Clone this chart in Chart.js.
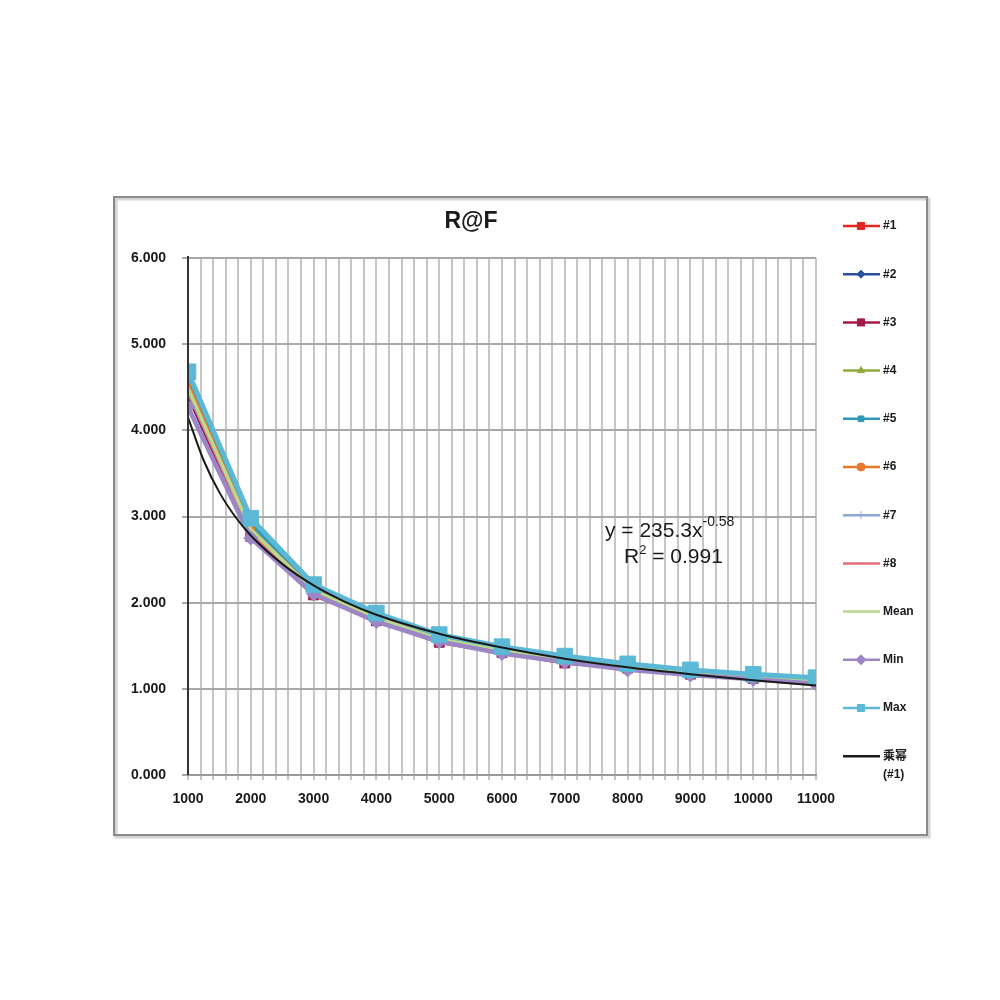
<!DOCTYPE html>
<html>
<head>
<meta charset="utf-8">
<script src="https://cdn.jsdelivr.net/npm/chart.js@4/dist/chart.umd.min.js"></script>
<style>
  html, body { margin: 0; padding: 0; background: #fff; }
  #wrap { width: 1000px; height: 1000px; }
</style>
</head>
<body>
<div id="wrap"><canvas id="c" width="1000" height="1000"></canvas></div>
<script>
// values
const xValues = [1000, 2000, 3000, 4000, 5000, 6000, 7000, 8000, 9000, 10000, 11000];
const s1   = [4.43, 2.78, 2.10, 1.80, 1.56, 1.43, 1.32, 1.24, 1.18, 1.13, 1.08];
const s2   = [4.40, 2.80, 2.13, 1.82, 1.58, 1.44, 1.33, 1.25, 1.18, 1.13, 1.09];
const s3   = [4.42, 2.77, 2.09, 1.79, 1.54, 1.42, 1.30, 1.24, 1.17, 1.12, 1.08];
const s4   = [4.50, 2.88, 2.16, 1.84, 1.60, 1.46, 1.35, 1.26, 1.20, 1.15, 1.10];
const s5   = [4.60, 2.92, 2.18, 1.86, 1.61, 1.47, 1.36, 1.27, 1.21, 1.16, 1.11];
const s6   = [4.54, 2.85, 2.15, 1.83, 1.59, 1.45, 1.34, 1.26, 1.19, 1.14, 1.10];
const s7   = [4.45, 2.83, 2.14, 1.82, 1.58, 1.45, 1.34, 1.25, 1.19, 1.14, 1.09];
const s8   = [4.47, 2.82, 2.13, 1.81, 1.58, 1.44, 1.33, 1.25, 1.18, 1.13, 1.09];
const mean = [4.49, 2.85, 2.14, 1.82, 1.58, 1.45, 1.34, 1.25, 1.19, 1.14, 1.09];
const minV = [4.27, 2.75, 2.10, 1.78, 1.55, 1.41, 1.31, 1.22, 1.16, 1.11, 1.06];
const maxV = [4.68, 2.98, 2.21, 1.88, 1.63, 1.49, 1.38, 1.29, 1.22, 1.17, 1.13];

// power trend line (#1)
const fitX = [1000, 1250, 1500, 1750, 2000, 2500, 3000, 3500, 4000, 5000, 6000, 7000, 8000, 9000, 10000, 11000];
const fitY = [4.15, 3.65, 3.28, 3.00, 2.78, 2.45, 2.20, 2.01, 1.86, 1.64, 1.48, 1.35, 1.25, 1.17, 1.10, 1.04];

const yTicks = [0, 1, 2, 3, 4, 5, 6];
const titleText = 'R@F';
const fitText = ['y = 235.3x', '-0.58', 'R', '2', ' = 0.991'];

const FONT = '"Liberation Sans", Arial, "Noto Sans CJK SC", sans-serif';

const pts = (xs, ys) => xs.map((x, i) => ({ x: x, y: ys[i] }));

const series = (label, data, color, style, radius, order, width) => ({
  label: label,
  data: pts(xValues, data),
  borderColor: color,
  backgroundColor: color,
  borderWidth: width || 3.5,
  pointStyle: style,
  pointRadius: radius,
  pointBorderWidth: 1,
  pointBorderColor: color,
  pointBackgroundColor: color,
  tension: 0,
  order: order,
});

const datasets = [
  series('#1', s1, '#e3261f', 'rect', 5, 11),
  series('#2', s2, '#2a4f9c', 'rectRot', 4, 10),
  series('#3', s3, '#a31a4a', 'rect', 7, 9),
  series('#4', s4, '#8cab3c', 'triangle', 4, 8),
  series('#5', s5, '#2f97b8', 'rect', 4, 7),
  series('#6', s6, '#e8782a', 'circle', 4, 6),
  series('#7', s7, '#8ea6d6', 'cross', 4, 5),
  series('#8', s8, '#e06f7a', 'line', 4, 4),
  series('Mean', mean, '#b9d98c', 'circle', 0, 3),
  series('Min', minV, '#9c86c6', 'rectRot', 7, 2, 4.5),
  series('Max', maxV, '#5bb9d6', 'rect', 11, 1, 5),
  {
    label: '乘幂\n(#1)',
    data: pts(fitX, fitY),
    borderColor: '#1a1a1a',
    backgroundColor: '#1a1a1a',
    borderWidth: 2,
    pointRadius: 0,
    cubicInterpolationMode: 'monotone',
    order: 0,
  },
];

const framePlugin = {
  id: 'frame',
  beforeDraw(chart) {
    const ctx = chart.ctx;
    ctx.save();
    ctx.fillStyle = '#fff';
    ctx.fillRect(0, 0, chart.width, chart.height);
    ctx.strokeStyle = '#d4d4d4';
    ctx.lineWidth = 3;
    ctx.strokeRect(116, 199, 813, 638);
    ctx.strokeStyle = '#8a8a8a';
    ctx.lineWidth = 2;
    ctx.strokeRect(114, 197, 813, 638);
    ctx.restore();
  },
  afterDraw(chart) {
    const ctx = chart.ctx;
    const xs = chart.scales.x, ys = chart.scales.y;
    ctx.save();
    // left axis line
    ctx.strokeStyle = '#333';
    ctx.lineWidth = 2;
    ctx.beginPath();
    ctx.moveTo(xs.left, ys.top - 2);
    ctx.lineTo(xs.left, ys.bottom);
    ctx.stroke();

    // title
    ctx.fillStyle = '#1a1a1a';
    ctx.font = 'bold 23px ' + FONT;
    ctx.textAlign = 'center';
    ctx.textBaseline = 'middle';
    ctx.fillText(titleText, 471, 222);
    ctx.textAlign = 'left';

    // fit equation
    ctx.textBaseline = 'alphabetic';
    ctx.font = '21px ' + FONT;
    let x = 605, y = 537;
    ctx.fillText(fitText[0], x, y);
    x += ctx.measureText(fitText[0]).width;
    ctx.font = '14px ' + FONT;
    ctx.fillText(fitText[1], x, y - 11);
    ctx.font = '21px ' + FONT;
    x = 624; y = 563;
    ctx.fillText(fitText[2], x, y);
    x += ctx.measureText(fitText[2]).width;
    ctx.font = '13px ' + FONT;
    ctx.fillText(fitText[3], x, y - 9);
    x += ctx.measureText(fitText[3]).width;
    ctx.font = '21px ' + FONT;
    ctx.fillText(fitText[4], x, y);

    // legend
    chart.data.datasets.forEach((ds, i) => {
      const ly = 226 + i * 48.2;
      ctx.strokeStyle = ds.borderColor;
      ctx.lineWidth = 2.5;
      ctx.beginPath();
      ctx.moveTo(843, ly);
      ctx.lineTo(880, ly);
      ctx.stroke();
      if (ds.pointRadius > 0) {
        ctx.fillStyle = ds.borderColor;
        ctx.strokeStyle = ds.borderColor;
        ctx.lineWidth = 1;
        Chart.helpers.drawPoint(ctx, {
          pointStyle: ds.pointStyle,
          radius: Math.min(ds.pointRadius, 5),
          rotation: 0,
          borderWidth: 1,
        }, 861, ly);
      }
      ctx.fillStyle = '#1a1a1a';
      ctx.font = 'bold 12px ' + FONT;
      ctx.textBaseline = 'middle';
      ds.label.split('\n').forEach((t, k) => ctx.fillText(t, 883, ly + k * 18));
    });
    ctx.restore();
  },
};

new Chart(document.getElementById('c'), {
  type: 'line',
  data: { datasets: datasets },
  options: {
    responsive: false,
    animation: false,
    layout: { padding: { left: 0, right: 184, top: 258, bottom: 165 } },
    plugins: {
      legend: { display: false },
      tooltip: { enabled: false },
      title: { display: false },
    },
    scales: {
      x: {
        type: 'linear',
        min: xValues[0],
        max: xValues[xValues.length - 1],
        afterFit: (s) => { s.height = 60; },
        afterBuildTicks: (s) => {
          const t = [];
          for (let v = xValues[0]; v <= xValues[xValues.length - 1]; v += 200) t.push({ value: v });
          s.ticks = t;
        },
        ticks: {
          autoSkip: false,
          maxRotation: 0,
          padding: 11,
          color: '#1a1a1a',
          font: { family: FONT, size: 14, weight: 'bold' },
          callback: (v) => (v % 1000 === 0 ? String(v) : ''),
        },
        grid: { color: '#c6c6c6', lineWidth: 2, tickLength: 5, drawTicks: true },
        border: { display: true, color: '#9a9a9a', width: 2 },
      },
      y: {
        min: yTicks[0],
        max: yTicks[yTicks.length - 1],
        afterFit: (s) => { s.width = 188; },
        afterBuildTicks: (s) => { s.ticks = yTicks.map(v => ({ value: v })); },
        ticks: {
          padding: 16,
          color: '#1a1a1a',
          font: { family: FONT, size: 14, weight: 'bold' },
          callback: (v) => v.toFixed(3),
        },
        grid: { color: '#a8a8a8', lineWidth: 2, tickLength: 6 },
        border: { display: false },
      },
    },
  },
  plugins: [framePlugin],
});
</script>
</body>
</html>
